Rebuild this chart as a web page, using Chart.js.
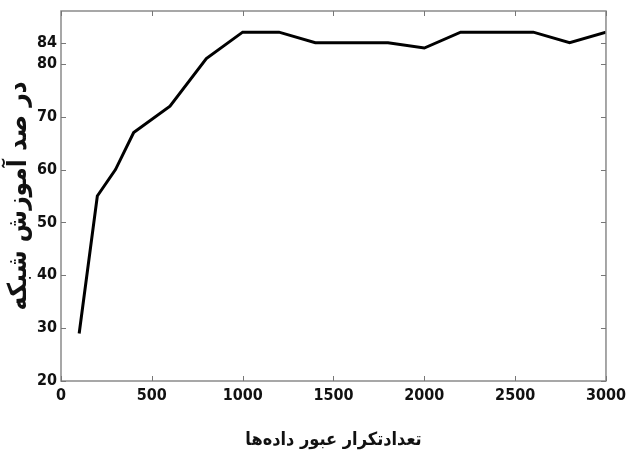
<!DOCTYPE html>
<html>
<head>
<meta charset="utf-8">
<script src="https://cdn.jsdelivr.net/npm/chart.js@4.4.1/dist/chart.umd.min.js"></script>
<style>
  html, body { margin: 0; padding: 0; background: #fff; }
  #wrap { width: 631px; height: 451px; }
</style>
</head>
<body>
<div id="wrap"><canvas id="c" width="631" height="451"></canvas></div>
<script>
// Training iterations (x) and network training percentage (y)
const iterations = [100, 200, 300, 400, 600, 800, 1000, 1200, 1400, 1600, 1800, 2000, 2200, 2400, 2600, 2800, 3000];
const trainPercent = [29, 55, 60, 67, 72, 81, 86, 86, 84, 84, 84, 83, 86, 86, 86, 84, 86];
const xTicks = [0, 500, 1000, 1500, 2000, 2500, 3000];
const yTicks = [20, 30, 40, 50, 60, 70, 80, 84];
const xTitle = 'تعدادتکرار عبور داده‌ها';
const yTitle = 'در صد آموزش شبکه';

const tickFont = { family: "'DejaVu Sans Condensed', 'Liberation Sans Narrow', 'Liberation Sans', sans-serif", weight: 'bold', size: 16 };
const titleFont = { family: "'DejaVu Sans Condensed', 'DejaVu Sans', sans-serif", weight: 'bold' };

// Frame around the plot with inward tick marks on all four sides
const framePlugin = {
  id: 'frame',
  afterDraw(chart) {
    const { ctx, chartArea: a, scales } = chart;
    ctx.save();
    ctx.strokeStyle = '#8a8a8a';
    ctx.lineWidth = 1.5;
    ctx.strokeRect(a.left, a.top, a.right - a.left, a.bottom - a.top);
    ctx.lineWidth = 1;
    ctx.strokeStyle = '#777';
    const len = 5;
    ctx.beginPath();
    xTicks.forEach(v => {
      const px = Math.round(scales.x.getPixelForValue(v)) + 0.5;
      ctx.moveTo(px, a.bottom); ctx.lineTo(px, a.bottom - len);
      ctx.moveTo(px, a.top); ctx.lineTo(px, a.top + len);
    });
    yTicks.forEach(v => {
      const py = Math.round(scales.y.getPixelForValue(v)) + 0.5;
      ctx.moveTo(a.left, py); ctx.lineTo(a.left + len, py);
      ctx.moveTo(a.right, py); ctx.lineTo(a.right - len, py);
    });
    ctx.stroke();
    ctx.restore();
  }
};

new Chart(document.getElementById('c'), {
  type: 'line',
  data: {
    datasets: [{
      data: iterations.map((x, i) => ({ x, y: trainPercent[i] })),
      borderColor: '#000',
      borderWidth: 3,
      pointRadius: 0,
      tension: 0,
      fill: false
    }]
  },
  options: {
    responsive: false,
    animation: false,
    devicePixelRatio: 1,
    layout: { padding: { left: 4, right: 24, top: 11, bottom: 0 } },
    plugins: { legend: { display: false }, tooltip: { enabled: false } },
    scales: {
      x: {
        type: 'linear',
        min: 0, max: 3000,
        afterBuildTicks(s) { s.ticks = xTicks.map(v => ({ value: v })); },
        afterFit(s) { s.height = 70; },
        grid: { display: false, drawTicks: false },
        border: { display: false },
        ticks: { color: '#111', font: tickFont, padding: 5, maxRotation: 0, autoSkip: false, callback: v => String(v) },
        title: { display: true, text: xTitle, color: '#111', font: { ...titleFont, size: 18 }, padding: { top: 10, bottom: 0 } }
      },
      y: {
        type: 'linear',
        min: 20, max: 90,
        afterBuildTicks(s) { s.ticks = yTicks.map(v => ({ value: v })); },
        afterFit(s) { s.width = 57; s.paddingTop = 0; s.paddingBottom = 0; },
        grid: { display: false, drawTicks: false },
        border: { display: false },
        ticks: { color: '#111', font: { ...tickFont, size: 16 }, padding: 4, autoSkip: false, callback: v => String(v) },
        title: { display: true, text: yTitle, color: '#111', font: { ...titleFont, size: 26 }, padding: { top: 0, bottom: 3 } }
      }
    }
  },
  plugins: [framePlugin]
});
</script>
</body>
</html>
